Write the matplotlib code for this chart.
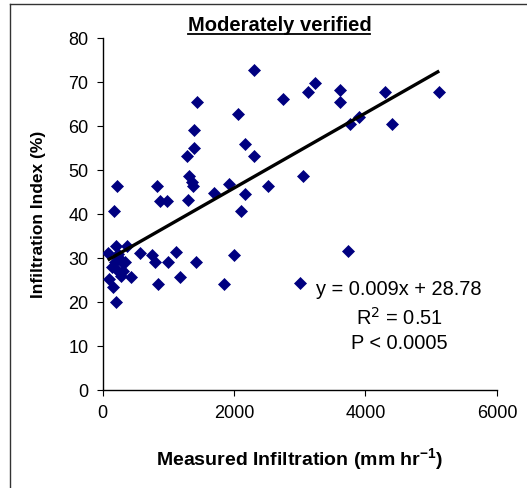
import matplotlib
matplotlib.use("Agg")
import matplotlib.pyplot as plt
from matplotlib.lines import Line2D
import numpy as np

plt.rcParams["font.family"] = ["Liberation Sans", "DejaVu Sans"]

# measured infiltration (mm/hr) vs infiltration index (%)
measured = [
    2309, 3228, 3130, 3612, 3612, 4301, 5122, 3764, 3906, 4398,
    3054, 3729, 3000, 1432, 2740, 2056, 1392, 1397, 1280, 2167,
    2309, 1311, 1357, 1372, 225, 824, 1696, 1924, 2172, 2512,
    175, 875, 986, 1296, 2106,
    201, 370, 80, 231, 292, 190, 570, 758, 804, 1118,
    1001, 1420, 2005, 231, 433, 280, 94, 160, 845, 1185,
    1848, 203, 266, 140, 317, 342,
]
index_pct = [
    72.6, 69.7, 67.7, 68.0, 65.3, 67.6, 67.6, 60.3, 61.9, 60.3,
    48.6, 31.5, 24.2, 65.3, 66.1, 62.7, 58.9, 54.9, 53.0, 55.8,
    53.0, 48.6, 47.1, 46.2, 46.3, 46.3, 44.6, 46.8, 44.5, 46.4,
    40.7, 42.9, 42.8, 43.2, 40.7,
    32.6, 32.6, 31.0, 30.8, 29.0, 29.0, 31.1, 30.7, 29.0, 31.2,
    29.0, 29.0, 30.6, 27.0, 25.7, 25.9, 25.2, 23.3, 24.0, 25.7,
    24.0, 20.0, 29.6, 27.8, 27.0, 29.0,
]

# trend line as drawn (equation label is rounded)
slope = 0.00852
intercept = 28.78

x_ticks = [0, 2000, 4000, 6000]
y_ticks = [0, 10, 20, 30, 40, 50, 60, 70, 80]

fig = plt.figure(figsize=(5.27, 4.89), dpi=100)
ax = fig.add_axes([0.1945, 0.201, 0.7485, 0.72])

ax.plot(measured, index_pct, "D", color="#000080", ms=6.6, mec="#000080", mew=0.5,
        zorder=3)
xl = np.array([min(measured), max(measured)])
ax.plot(xl, intercept + slope * xl, color="black", lw=2.4, solid_capstyle="butt",
        zorder=4)

ax.set_xlim(0, 6000)
ax.set_ylim(0, 80)
ax.set_xticks(x_ticks)
ax.set_yticks(y_ticks)
ax.tick_params(direction="out", length=4, width=0.8, labelsize=13, pad=6)
for side in ("top", "right"):
    ax.spines[side].set_visible(False)
for side in ("left", "bottom"):
    ax.spines[side].set_linewidth(1.0)

ax.set_xlabel("Measured Infiltration (mm hr$^{\\mathregular{-1}}$)", fontsize=14,
              fontweight="bold", labelpad=18)
ax.set_ylabel("Infiltration Index (%)", fontsize=12.5, fontweight="bold",
              labelpad=16)

ax.text(4510, 23.1, "y = 0.009x + 28.78", ha="center", va="center", fontsize=14.4)
ax.text(4510, 16.5, "R$^2$ = 0.51", ha="center", va="center", fontsize=14.4)
ax.text(4510, 10.8, "P < 0.0005", ha="center", va="center", fontsize=14.4)

fig.text(0.531, 0.948, "Moderately verified", ha="center", va="center",
         fontsize=14.5, fontweight="bold")
fig.add_artist(Line2D([0.357, 0.703], [0.929, 0.929], color="black", lw=1.3))

# outer frame
fig.add_artist(Line2D([10 / 527, 10 / 527], [-0.01, 1 - 5 / 489], color="#333333", lw=1.0))
fig.add_artist(Line2D([10 / 527, 1.01], [1 - 5 / 489, 1 - 5 / 489], color="#333333", lw=1.0))

fig.savefig("out.png", dpi=100)
